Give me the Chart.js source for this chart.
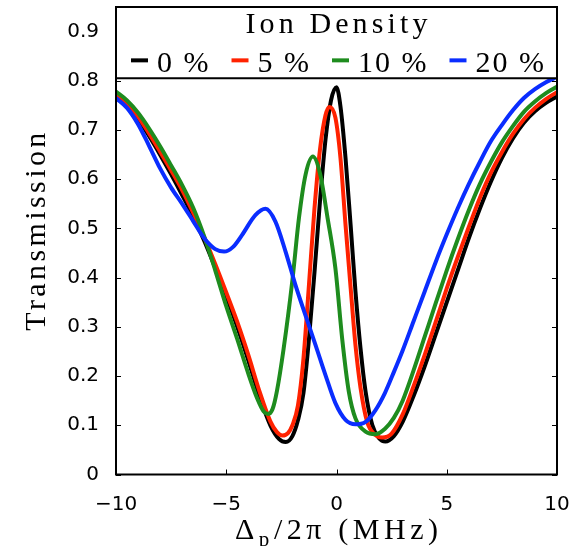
<!DOCTYPE html>
<html lang="en">
<head>
  <meta charset="UTF-8" />
  <title>Transmission vs probe detuning</title>
  <script src="https://cdn.jsdelivr.net/npm/chart.js"></script>
  <style>
    body { margin: 0; background: #fff; }
  </style>
</head>
<body>
<canvas id="chart" width="580" height="546"></canvas>

<script>
  // values
  const labels = ['0 %', '5 %', '10 %', '20 %'];
  const colors = ['#000000', '#ff2200', '#1e8c1e', '#0a2dff'];

  const x0 = [-10, -9.5, -9, -8.5, -8, -7.5, -7, -6.5, -6, -5.5, -5, -4.5, -4, -3.5, -3, -2.6, -2.3, -2.0, -1.75, -1.5, -1.25, -1.0, -0.75, -0.5, -0.25, 0, 0.18, 0.41, 0.64, 0.86, 1.09, 1.32, 1.62, 1.92, 2.22, 2.6, 3.0, 3.5, 4.0, 4.5, 5.0, 5.5, 6.0, 6.5, 7.0, 7.5, 8.0, 8.5, 9.0, 9.5, 10];
  const y0 = [0.766, 0.747, 0.722, 0.688, 0.650, 0.610, 0.568, 0.524, 0.475, 0.420, 0.362, 0.300, 0.232, 0.160, 0.100, 0.072, 0.066, 0.078, 0.110, 0.165, 0.275, 0.410, 0.555, 0.680, 0.760, 0.787, 0.748, 0.643, 0.507, 0.372, 0.256, 0.168, 0.101, 0.074, 0.067, 0.078, 0.107, 0.160, 0.220, 0.285, 0.350, 0.415, 0.480, 0.540, 0.595, 0.643, 0.683, 0.715, 0.738, 0.755, 0.768];

  const x5 = [-10, -9.5, -9, -8.5, -8, -7.5, -7, -6.5, -6, -5.5, -5, -4.5, -4, -3.5, -3, -2.7, -2.45, -2.2, -2.0, -1.75, -1.5, -1.25, -1.0, -0.75, -0.5, -0.32, -0.05, 0.18, 0.41, 0.64, 0.86, 1.09, 1.39, 1.77, 2.07, 2.5, 3.0, 3.5, 4.0, 4.5, 5.0, 5.5, 6.0, 6.5, 7.0, 7.5, 8.0, 8.5, 9.0, 9.5, 10];
  const y5 = [0.769, 0.752, 0.727, 0.693, 0.656, 0.618, 0.578, 0.532, 0.482, 0.428, 0.370, 0.310, 0.243, 0.170, 0.108, 0.086, 0.079, 0.084, 0.100, 0.140, 0.235, 0.385, 0.540, 0.660, 0.730, 0.747, 0.725, 0.643, 0.507, 0.380, 0.263, 0.176, 0.107, 0.080, 0.075, 0.083, 0.122, 0.180, 0.243, 0.310, 0.378, 0.442, 0.503, 0.562, 0.613, 0.655, 0.692, 0.722, 0.745, 0.763, 0.777];

  const x10 = [-10, -9.5, -9, -8.5, -8, -7.5, -7, -6.5, -6, -5.5, -5, -4.5, -4, -3.6, -3.3, -3.1, -2.9, -2.7, -2.4, -2.0, -1.7, -1.4, -1.07, -0.75, -0.4, -0.05, 0.26, 0.56, 0.86, 1.32, 1.77, 2.2, 2.6, 3.0, 3.5, 4.0, 4.5, 5.0, 5.5, 6.0, 6.5, 7.0, 7.5, 8.0, 8.5, 9.0, 9.5, 10];
  const y10 = [0.778, 0.760, 0.735, 0.703, 0.667, 0.628, 0.588, 0.542, 0.484, 0.415, 0.342, 0.275, 0.205, 0.155, 0.128, 0.123, 0.133, 0.170, 0.255, 0.395, 0.522, 0.610, 0.646, 0.612, 0.520, 0.419, 0.275, 0.168, 0.114, 0.087, 0.082, 0.093, 0.115, 0.150, 0.212, 0.280, 0.348, 0.415, 0.478, 0.537, 0.590, 0.635, 0.675, 0.708, 0.737, 0.758, 0.775, 0.788];

  const x20 = [-10, -9.5, -9, -8.5, -8, -7.5, -7, -6.5, -6, -5.5, -5.1, -4.7, -4.28, -3.68, -3.22, -2.77, -2.31, -1.86, -1.41, -0.95, -0.5, -0.05, 0.41, 0.86, 1.32, 1.77, 2.2, 2.6, 3.0, 3.5, 4.0, 4.5, 5.0, 5.5, 6.0, 6.5, 7.0, 7.5, 8.0, 8.5, 9.0, 9.5, 10];
  const y20 = [0.765, 0.745, 0.712, 0.668, 0.622, 0.583, 0.550, 0.515, 0.480, 0.458, 0.453, 0.462, 0.487, 0.527, 0.540, 0.514, 0.453, 0.385, 0.324, 0.263, 0.202, 0.145, 0.111, 0.102, 0.107, 0.131, 0.166, 0.208, 0.252, 0.312, 0.372, 0.432, 0.488, 0.541, 0.590, 0.635, 0.677, 0.710, 0.740, 0.765, 0.783, 0.797, 0.808];

  const xTicks = [-10, -5, 0, 5, 10];
  const yTicks = [0, 0.1, 0.2, 0.3, 0.4, 0.5, 0.6, 0.7, 0.8, 0.9];
  const legendTitle = 'Ion Density';
  const yTitle = 'Transmission';
  const legendBottom = 0.805; // legend box covers the plot down to this value

  const xs = [x0, x5, x10, x20];
  const ys = [y0, y5, y10, y20];

  const SERIF = '"Liberation Serif", "DejaVu Serif", serif';
  const SANS = '"DejaVu Sans", "Liberation Sans", sans-serif';

  function fitSpacing(ctx, text, target) {
    ctx.letterSpacing = '0px';
    const w = ctx.measureText(text).width;
    const s = Math.max(0, (target - w) / Math.max(1, text.length - 1));
    ctx.letterSpacing = s + 'px';
    return s;
  }

  const decor = {
    id: 'decor',
    afterDatasetsDraw(chart) {
      const { ctx, chartArea: a, scales: { x, y } } = chart;
      ctx.save();

      // inward ticks
      ctx.strokeStyle = '#000';
      ctx.lineWidth = 1;
      ctx.beginPath();
      yTicks.forEach(v => {
        const p = Math.round(y.getPixelForValue(v)) + 0.5;
        ctx.moveTo(a.left, p); ctx.lineTo(a.left + 5, p);
        ctx.moveTo(a.right, p); ctx.lineTo(a.right - 5, p);
      });
      xTicks.forEach(v => {
        const p = Math.round(x.getPixelForValue(v)) + 0.5;
        ctx.moveTo(p, a.bottom); ctx.lineTo(p, a.bottom - 5);
      });
      ctx.stroke();

      // legend box
      const lb = y.getPixelForValue(legendBottom);
      ctx.fillStyle = '#fff';
      ctx.fillRect(a.left, a.top, a.right - a.left, lb - a.top);
      ctx.lineWidth = 2;
      ctx.strokeRect(a.left, a.top, a.right - a.left, a.bottom - a.top);
      ctx.beginPath();
      ctx.moveTo(a.left, lb); ctx.lineTo(a.right, lb);
      ctx.stroke();

      const cx = (a.left + a.right) / 2 + 2;
      ctx.fillStyle = '#000';
      ctx.font = '30px ' + SERIF;
      ctx.textAlign = 'center';
      ctx.textBaseline = 'alphabetic';
      fitSpacing(ctx, legendTitle, 182);
      ctx.fillText(legendTitle, cx, a.top + 26);

      // legend entries
      ctx.letterSpacing = '2px';
      ctx.textAlign = 'left';
      const sample = 17, gapIn = 9, gapOut = 21;
      const widths = chart.data.datasets.map(d => ctx.measureText(d.label).width);
      const total = widths.reduce((s, w) => s + sample + gapIn + w, 0) + gapOut * (widths.length - 1);
      let px = cx - total / 2;
      const base = lb - 6;
      chart.data.datasets.forEach((d, i) => {
        ctx.strokeStyle = d.borderColor;
        ctx.lineWidth = 4;
        ctx.beginPath();
        ctx.moveTo(px, base - 12); ctx.lineTo(px + sample, base - 12);
        ctx.stroke();
        ctx.fillText(d.label, px + sample + gapIn, base);
        px += sample + gapIn + widths[i] + gapOut;
      });
      ctx.restore();
    },
    afterDraw(chart) {
      const { ctx, chartArea: a } = chart;
      ctx.save();
      ctx.fillStyle = '#000';
      ctx.textBaseline = 'alphabetic';

      // y title
      ctx.save();
      ctx.translate(45, 230);
      ctx.rotate(-Math.PI / 2);
      ctx.font = '30px ' + SERIF;
      ctx.textAlign = 'center';
      fitSpacing(ctx, yTitle, 198);
      ctx.fillText(yTitle, 0, 0);
      ctx.restore();

      // x title: Δ_p/2π (MHz)
      const parts = [
        { t: '\u0394', f: '30px ' + SERIF, dy: 0 },
        { t: 'p', f: '21px ' + SERIF, dy: 7 },
        { t: '/2\u03c0 (MHz)', f: '30px ' + SERIF, dy: 0 }
      ];
      ctx.letterSpacing = '0px';
      let nat = 0, n = 0;
      parts.forEach(p => { ctx.font = p.f; p.w = ctx.measureText(p.t).width; nat += p.w; n += p.t.length; });
      const target = 203;
      const s = Math.max(0, (target - nat) / (n - 1));
      let tx = (a.left + a.right) / 2 - target / 2;
      ctx.textAlign = 'left';
      ctx.letterSpacing = s + 'px';
      parts.forEach(p => {
        ctx.font = p.f;
        ctx.fillText(p.t, tx, 539 + p.dy);
        tx += p.w + s * p.t.length;
      });
      ctx.restore();
    }
  };

  const fmt = v => (v < 0 ? '\u2212' + Math.abs(v) : String(v));

  new Chart(document.getElementById('chart'), {
    type: 'line',
    data: {
      datasets: labels.map((lab, i) => ({
        label: lab,
        data: xs[i].map((xv, k) => ({ x: xv, y: ys[i][k] })),
        borderColor: colors[i],
        backgroundColor: colors[i],
        borderWidth: 4,
        pointRadius: 0,
        fill: false,
        cubicInterpolationMode: 'monotone',
        order: labels.length - 1 - i
      }))
    },
    options: {
      responsive: false,
      animation: false,
      events: [],
      layout: { padding: { left: 0, top: 7, right: 23, bottom: 0 } },
      plugins: { legend: { display: false }, tooltip: { enabled: false } },
      scales: {
        x: {
          type: 'linear',
          min: -10, max: 10,
          grid: { display: false },
          border: { display: false },
          afterBuildTicks: s => { s.ticks = xTicks.map(v => ({ value: v })); },
          afterFit: s => { s.height = 71.5; s.paddingLeft = 0; s.paddingRight = 0; },
          ticks: {
            color: '#000',
            padding: 10,
            maxRotation: 0,
            font: { family: SANS, size: 20 },
            callback: fmt
          }
        },
        y: {
          min: 0, max: 0.95,
          grid: { display: false },
          border: { display: false },
          afterBuildTicks: s => { s.ticks = yTicks.map(v => ({ value: v })); },
          afterFit: s => { s.width = 116; s.paddingTop = 0; s.paddingBottom = 0; },
          ticks: {
            color: '#000',
            padding: 9,
            font: { family: SANS, size: 20 },
            callback: fmt
          }
        }
      }
    },
    plugins: [decor]
  });
</script>
</body>
</html>
